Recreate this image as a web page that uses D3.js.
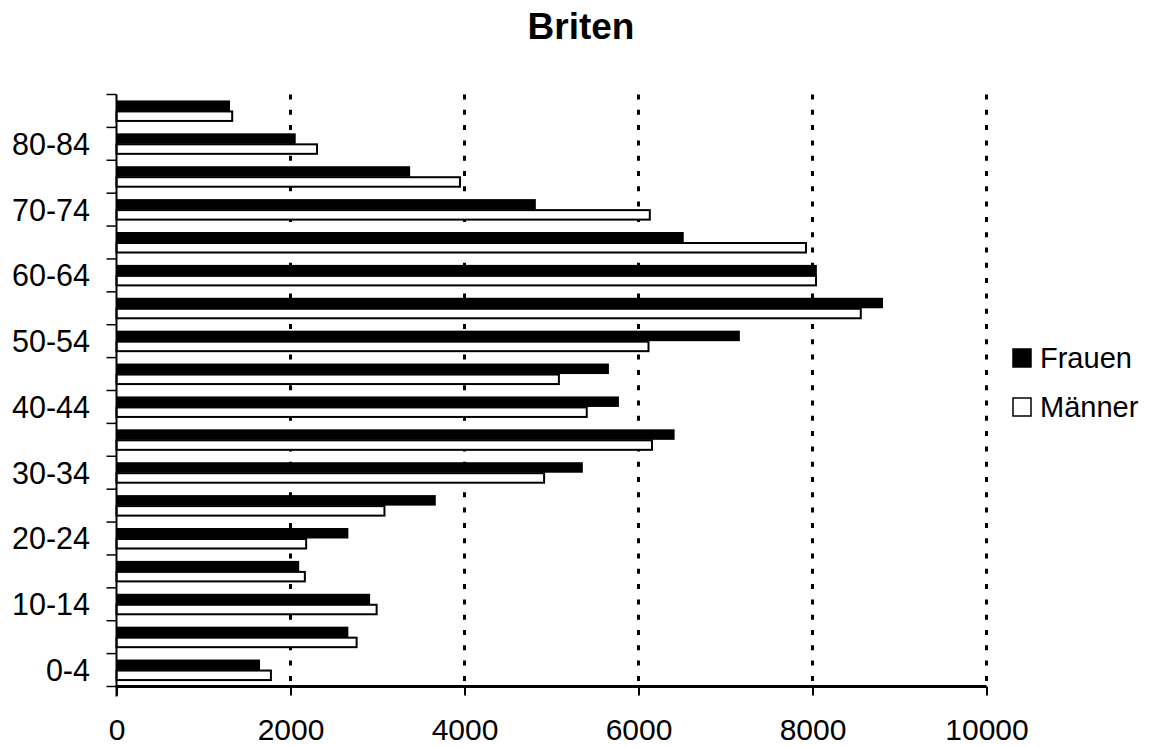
<!DOCTYPE html>
<html>
<head>
<meta charset="utf-8">
<script src="https://cdn.jsdelivr.net/npm/d3@7"></script>
<style>
  html, body { margin: 0; padding: 0; background: #fff; }
  svg { display: block; font-family: "Liberation Sans", Arial, sans-serif; }
</style>
</head>
<body>
<svg id="chart" width="1156" height="747"></svg>
<script>
// Age groups, bottom to top
const categories = ["0-4","5-9","10-14","15-19","20-24","25-29","30-34","35-39","40-44","45-49","50-54","55-59","60-64","65-69","70-74","75-79","80-84","85+"];
const shownLabels = ["0-4","10-14","20-24","30-34","40-44","50-54","60-64","70-74","80-84"];
const frauen = [1650,2665,2915,2100,2665,3670,5360,6415,5775,5660,7165,8810,8050,6520,4820,3375,2060,1305];
const maenner = [1775,2760,2990,2165,2180,3080,4915,6155,5405,5085,6115,8555,8040,7925,6130,3948,2305,1330];
const xTicks = [0,2000,4000,6000,8000,10000];
const seriesNames = ["Frauen","Männer"];

(function () {
const svg = d3.select("#chart");
const pLeft = 116.5, pRight = 986.5, pTop = 94.5, pBottom = 686.5;

const x = d3.scaleLinear().domain([0,10000]).range([pLeft,pRight]);
const y = d3.scaleBand().domain(categories).range([pBottom, pTop]).paddingInner(0).paddingOuter(0);
const inner = d3.scaleBand().domain(seriesNames).range([0, 21]);
const bw = y.bandwidth();
const pairOffset = (bw - 21) / 2;

// Title
svg.append("text").attr("x", 581).attr("y", 39).attr("text-anchor","middle")
  .attr("font-size", 37).attr("font-weight","bold").text("Briten");

// Gridlines (dotted)
svg.append("g").selectAll("line").data(xTicks.filter(d => d > 0)).join("line")
  .attr("x1", d => x(d)).attr("x2", d => x(d))
  .attr("y1", pTop).attr("y2", pBottom)
  .attr("stroke", "#000").attr("stroke-width", 3)
  .attr("stroke-dasharray", "5,10.3");

// Bars
const rows = categories.map((c,i) => ({c, f: frauen[i], m: maenner[i]}));
const g = svg.append("g");
g.selectAll("rect.f").data(rows).join("rect").attr("class","f")
  .attr("x", x(0)).attr("y", d => y(d.c) + pairOffset + inner("Frauen"))
  .attr("width", d => x(d.f) - x(0)).attr("height", inner.bandwidth())
  .attr("fill", "#000");
g.selectAll("rect.m").data(rows).join("rect").attr("class","m")
  .attr("x", x(0)).attr("y", d => y(d.c) + pairOffset + inner("Männer") + 0.5)
  .attr("width", d => x(d.m) - x(0)).attr("height", inner.bandwidth() - 1)
  .attr("fill", "#fff").attr("stroke", "#000").attr("stroke-width", 2);

// Y axis with ticks at band boundaries
const yBounds = d3.range(categories.length + 1).map(i => pBottom - i * bw);
svg.append("g").selectAll("line").data(yBounds).join("line")
  .attr("x1", pLeft - 10).attr("x2", pLeft).attr("y1", d => d).attr("y2", d => d)
  .attr("stroke", "#000").attr("stroke-width", 1.5);
svg.append("line").attr("x1", pLeft).attr("x2", pLeft).attr("y1", pTop).attr("y2", pBottom + 10)
  .attr("stroke", "#000").attr("stroke-width", 2);
svg.append("g").selectAll("text").data(shownLabels).join("text")
  .attr("x", 90).attr("y", d => y(d) + bw/2).attr("dy", "0.36em")
  .attr("text-anchor","end").attr("font-size", 30.5).text(d => d);

// X axis
const xAxis = d3.axisBottom(x).tickValues(xTicks).tickSize(9).tickPadding(23.5).tickFormat(d3.format("d"));
const ax = svg.append("g").attr("transform", `translate(0,${pBottom})`).call(xAxis);
ax.select(".domain").attr("stroke-width", 3).attr("d", `M${pLeft},0H${pRight}`);
ax.selectAll(".tick line").attr("stroke-width", 2);
ax.selectAll(".tick text").attr("font-size", 30).attr("font-family", "Liberation Sans, Arial, sans-serif").attr("fill", "#000");

// Legend
const legend = svg.append("g");
const legendItems = [{n: "Frauen", fill: "#000", y: 349}, {n: "Männer", fill: "#fff", y: 398}];
legend.selectAll("rect").data(legendItems).join("rect")
  .attr("x", 1013).attr("y", d => d.y).attr("width", 18).attr("height", 18)
  .attr("fill", d => d.fill).attr("stroke", "#000").attr("stroke-width", 1.5);
legend.selectAll("text").data(legendItems).join("text")
  .attr("x", 1040).attr("y", d => d.y + 19).attr("font-size", 29).text(d => d.n);
})();
</script>
</body>
</html>
